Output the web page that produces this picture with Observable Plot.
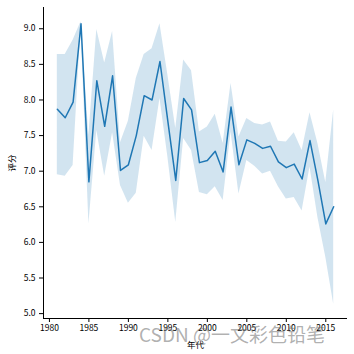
<!DOCTYPE html>
<html>
<head>
<meta charset="utf-8">
<script src="https://cdn.jsdelivr.net/npm/d3@7"></script>
<script src="https://cdn.jsdelivr.net/npm/@observablehq/plot@0.6"></script>
<style>
  html, body { margin: 0; padding: 0; background: #fff; }
  #wrap { position: relative; width: 354px; height: 354px; overflow: hidden; }
  #wm { position: absolute; left: 139px; top: 320px; font-family: "Noto Sans CJK SC", sans-serif; font-size: 19px; color: rgba(110,110,110,0.55); white-space: nowrap; pointer-events: none; }
</style>
</head>
<body>
<div id="wrap"><div id="chart"></div><div id="wm">CSDN @一文彩色铅笔</div></div>
<script>
const years = d3.range(1981, 2017);
const meanScore = [7.87, 7.75, 7.97, 9.07, 6.85, 8.27, 7.63, 8.34, 7.01, 7.09,
                   7.50, 8.06, 8.00, 8.54, 7.70, 6.87, 8.02, 7.86, 7.12, 7.15,
                   7.28, 6.99, 7.90, 7.09, 7.44, 7.39, 7.32, 7.35, 7.13, 7.05,
                   7.10, 6.89, 7.43, 6.87, 6.26, 6.50];
const upperCI = [8.64, 8.64, 8.84, 9.10, 7.50, 8.99, 8.52, 8.96, 7.40, 7.70,
                 8.30, 8.64, 8.72, 9.07, 8.35, 7.60, 8.56, 8.41, 7.55, 7.62,
                 7.80, 7.39, 8.23, 7.48, 7.74, 7.67, 7.65, 7.69, 7.42, 7.41,
                 7.54, 7.29, 7.82, 7.39, 6.84, 7.86];
const lowerCI = [6.95, 6.93, 7.08, 9.04, 6.26, 7.57, 6.93, 7.54, 6.80, 6.55,
                 6.69, 7.49, 7.29, 8.02, 7.20, 6.28, 7.46, 7.29, 6.70, 6.67,
                 6.78, 6.59, 7.55, 6.68, 7.15, 7.07, 6.96, 7.00, 6.78, 6.61,
                 6.63, 6.44, 7.06, 6.35, 5.79, 5.13];
const xTicks = [1980, 1985, 1990, 1995, 2000, 2005, 2010, 2015];
const yTicks = [5.0, 5.5, 6.0, 6.5, 7.0, 7.5, 8.0, 8.5, 9.0];

const data = years.map((y, i) => ({year: y, mean: meanScore[i], lo: lowerCI[i], hi: upperCI[i]}));

const xSpan = d3.max(years) - d3.min(years);
const xDomain = [d3.min(years) - xSpan * 0.05, d3.max(years) + xSpan * 0.05];
const yMin = d3.min(lowerCI), yMax = d3.max(upperCI);
const ySpan = yMax - yMin;
const yDomain = [yMin - ySpan * 0.05, yMax + ySpan * 0.05];

const color = "#1f77b4";
const chart = Plot.plot({
  width: 354,
  height: 354,
  marginLeft: 43,
  marginRight: 7,
  marginTop: 7,
  marginBottom: 36,
  style: {fontFamily: "'Noto Sans CJK SC', sans-serif", fontSize: "8.5px", color: "#000", background: "#fff"},
  x: {domain: xDomain},
  y: {domain: yDomain},
  marks: [
    Plot.areaY(data, {x: "year", y1: "lo", y2: "hi", fill: color, fillOpacity: 0.2, curve: "linear"}),
    Plot.lineY(data, {x: "year", y: "mean", stroke: color, strokeWidth: 1.5}),
    Plot.ruleX([xDomain[0]], {stroke: "#000", strokeWidth: 1}),
    Plot.ruleY([yDomain[0]], {stroke: "#000", strokeWidth: 1}),
    Plot.axisX(xTicks, {tickFormat: "d", tickSize: 4, tickPadding: 2, label: "年代", labelArrow: "none", labelAnchor: "center", labelOffset: 29, fontSize: 8.5}),
    Plot.axisY(yTicks, {tickFormat: d3.format(".1f"), tickSize: 4, tickPadding: 4, label: "评分", labelArrow: "none", labelAnchor: "center", labelOffset: 35, fontSize: 8.5})
  ]
});
document.getElementById("chart").appendChild(chart);
</script>
</body>
</html>
